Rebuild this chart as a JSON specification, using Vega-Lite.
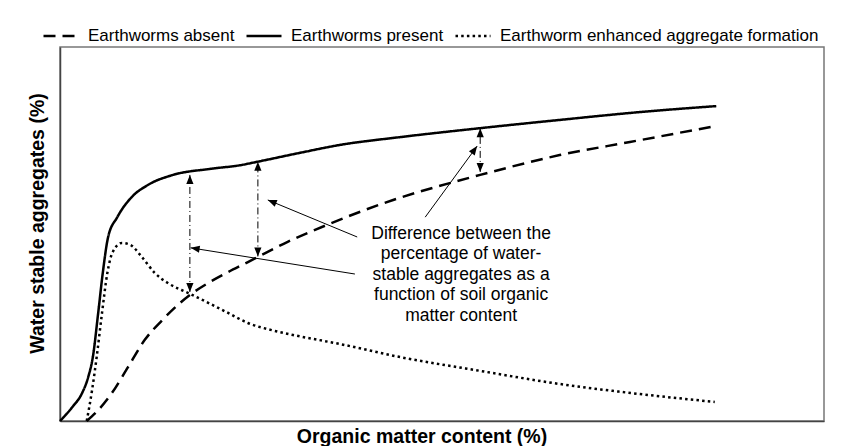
{
  "$schema": "https://vega.github.io/schema/vega-lite/v6.json",
  "width": 764,
  "height": 374,
  "autosize": {"type": "none"},
  "padding": {"left": 60, "top": 47, "right": 19, "bottom": 25},
  "background": "white",
  "config": {
    "view": {"stroke": "#777", "strokeWidth": 1.5},
    "font": "Liberation Sans",
    "axis": {
      "ticks": false, "labels": false, "grid": false,
      "domainColor": "#444", "domainWidth": 1.5,
      "titleFont": "Liberation Sans", "titleFontSize": 19.5, "titleFontWeight": "bold", "titleColor": "black"
    },
    "axisX": {"titlePadding": 6, "titleX": 361.5, "titleAlign": "center"},
    "axisY": {"titlePadding": 13, "titleY": 176, "titleAlign": "center"}
  },
  "datasets": {
    "curves": [
      {"series": "Earthworms present", "om": 0, "wsa": 0},
      {"series": "Earthworms present", "om": 1.6, "wsa": 3.7},
      {"series": "Earthworms present", "om": 2.9, "wsa": 7.5},
      {"series": "Earthworms present", "om": 3.7, "wsa": 11.8},
      {"series": "Earthworms present", "om": 4.3, "wsa": 17.1},
      {"series": "Earthworms present", "om": 5.0, "wsa": 28.9},
      {"series": "Earthworms present", "om": 5.6, "wsa": 39.6},
      {"series": "Earthworms present", "om": 6.3, "wsa": 49.2},
      {"series": "Earthworms present", "om": 7.5, "wsa": 54.5},
      {"series": "Earthworms present", "om": 9.4, "wsa": 59.9},
      {"series": "Earthworms present", "om": 11.5, "wsa": 63.1},
      {"series": "Earthworms present", "om": 14.8, "wsa": 65.8},
      {"series": "Earthworms present", "om": 19.6, "wsa": 67.4},
      {"series": "Earthworms present", "om": 23.6, "wsa": 68.4},
      {"series": "Earthworms present", "om": 25.8, "wsa": 69.3},
      {"series": "Earthworms present", "om": 31.4, "wsa": 71.7},
      {"series": "Earthworms present", "om": 36.6, "wsa": 73.8},
      {"series": "Earthworms present", "om": 44.5, "wsa": 75.9},
      {"series": "Earthworms present", "om": 55.0, "wsa": 78.3},
      {"series": "Earthworms present", "om": 65.4, "wsa": 80.5},
      {"series": "Earthworms present", "om": 75.9, "wsa": 82.6},
      {"series": "Earthworms present", "om": 85.9, "wsa": 84.2},
      {"series": "Earthworms absent", "om": 3.5, "wsa": 0},
      {"series": "Earthworms absent", "om": 5.0, "wsa": 2.9},
      {"series": "Earthworms absent", "om": 6.8, "wsa": 7.5},
      {"series": "Earthworms absent", "om": 8.9, "wsa": 14.4},
      {"series": "Earthworms absent", "om": 11.1, "wsa": 21.7},
      {"series": "Earthworms absent", "om": 13.4, "wsa": 27.0},
      {"series": "Earthworms absent", "om": 15.4, "wsa": 31.0},
      {"series": "Earthworms absent", "om": 17.0, "wsa": 33.7},
      {"series": "Earthworms absent", "om": 19.4, "wsa": 36.9},
      {"series": "Earthworms absent", "om": 22.0, "wsa": 39.8},
      {"series": "Earthworms absent", "om": 24.6, "wsa": 42.5},
      {"series": "Earthworms absent", "om": 26.4, "wsa": 44.4},
      {"series": "Earthworms absent", "om": 29.8, "wsa": 47.9},
      {"series": "Earthworms absent", "om": 34.9, "wsa": 52.4},
      {"series": "Earthworms absent", "om": 43.6, "wsa": 59.1},
      {"series": "Earthworms absent", "om": 51.0, "wsa": 63.6},
      {"series": "Earthworms absent", "om": 55.0, "wsa": 65.8},
      {"series": "Earthworms absent", "om": 65.4, "wsa": 71.1},
      {"series": "Earthworms absent", "om": 74.6, "wsa": 74.6},
      {"series": "Earthworms absent", "om": 85.9, "wsa": 78.9},
      {"series": "Earthworm enhanced aggregate formation", "om": 3.5, "wsa": 0},
      {"series": "Earthworm enhanced aggregate formation", "om": 4.2, "wsa": 8.3},
      {"series": "Earthworm enhanced aggregate formation", "om": 4.8, "wsa": 17.1},
      {"series": "Earthworm enhanced aggregate formation", "om": 5.5, "wsa": 28.9},
      {"series": "Earthworm enhanced aggregate formation", "om": 6.2, "wsa": 39.6},
      {"series": "Earthworm enhanced aggregate formation", "om": 6.9, "wsa": 45.2},
      {"series": "Earthworm enhanced aggregate formation", "om": 8.1, "wsa": 47.6},
      {"series": "Earthworm enhanced aggregate formation", "om": 9.2, "wsa": 47.1},
      {"series": "Earthworm enhanced aggregate formation", "om": 10.7, "wsa": 43.9},
      {"series": "Earthworm enhanced aggregate formation", "om": 12.4, "wsa": 39.6},
      {"series": "Earthworm enhanced aggregate formation", "om": 14.1, "wsa": 36.9},
      {"series": "Earthworm enhanced aggregate formation", "om": 16.8, "wsa": 34.2},
      {"series": "Earthworm enhanced aggregate formation", "om": 19.4, "wsa": 31.6},
      {"series": "Earthworm enhanced aggregate formation", "om": 22.0, "wsa": 28.9},
      {"series": "Earthworm enhanced aggregate formation", "om": 24.6, "wsa": 26.2},
      {"series": "Earthworm enhanced aggregate formation", "om": 27.7, "wsa": 24.3},
      {"series": "Earthworm enhanced aggregate formation", "om": 30.5, "wsa": 23.0},
      {"series": "Earthworm enhanced aggregate formation", "om": 36.6, "wsa": 20.6},
      {"series": "Earthworm enhanced aggregate formation", "om": 44.5, "wsa": 17.1},
      {"series": "Earthworm enhanced aggregate formation", "om": 55.0, "wsa": 13.4},
      {"series": "Earthworm enhanced aggregate formation", "om": 65.4, "wsa": 9.9},
      {"series": "Earthworm enhanced aggregate formation", "om": 75.9, "wsa": 7.2},
      {"series": "Earthworm enhanced aggregate formation", "om": 85.7, "wsa": 5.1}
    ],
    "diffs": [
      {"om": 17.0, "lo": 34.5, "hi": 65.8},
      {"om": 25.9, "lo": 44.0, "hi": 69.3},
      {"om": 55.0, "lo": 66.6, "hi": 78.3}
    ],
    "pointers": [
      {"id": "a", "om": 38.9, "wsa": 49.2, "tom": 27.2, "twsa": 59.1},
      {"id": "b", "om": 38.6, "wsa": 39.3, "tom": 17.1, "twsa": 46.3},
      {"id": "c", "om": 47.8, "wsa": 54.5, "tom": 54.6, "twsa": 73.5}
    ],
    "note": [
      {"om": 52.5, "wsa": 48.7, "label": "Difference between the\npercentage of water-\nstable aggregates as a\nfunction of soil organic\nmatter content"}
    ]
  },
  "layer": [
    {
      "data": {"name": "curves"},
      "mark": {"type": "line", "interpolate": "monotone", "color": "black", "strokeWidth": 2.5, "strokeCap": "butt"},
      "encoding": {
        "x": {
          "field": "om", "type": "quantitative",
          "scale": {"domain": [0, 100], "nice": false, "zero": false},
          "title": "Organic matter content (%)"
        },
        "y": {
          "field": "wsa", "type": "quantitative",
          "scale": {"domain": [0, 100], "nice": false, "zero": false},
          "title": "Water stable aggregates (%)"
        },
        "strokeDash": {
          "field": "series", "type": "nominal",
          "scale": {
            "domain": ["Earthworms absent", "Earthworms present", "Earthworm enhanced aggregate formation"],
            "range": [[12, 7], [1, 0], [2.5, 3.2]]
          },
          "legend": {
            "title": null, "orient": "none", "legendX": -18, "legendY": -30, "direction": "horizontal",
            "symbolType": "stroke", "symbolSize": 1225, "symbolStrokeWidth": 2.5, "symbolStrokeColor": "black",
            "labelFont": "Liberation Sans", "labelFontSize": 17, "labelColor": "black",
            "labelOffset": 8, "columnPadding": 6, "labelLimit": 0, "padding": 0
          }
        }
      }
    },
    {
      "data": {"name": "diffs"},
      "mark": {"type": "rule", "color": "black", "strokeWidth": 1, "strokeDash": [7, 3, 1, 3]},
      "encoding": {
        "x": {"field": "om", "type": "quantitative"},
        "y": {"field": "lo", "type": "quantitative"},
        "y2": {"field": "hi"}
      }
    },
    {
      "data": {"name": "diffs"},
      "mark": {"type": "point", "shape": "M0,0L0.8,2L-0.8,2Z", "filled": true, "size": 81, "color": "black", "opacity": 1},
      "encoding": {
        "x": {"field": "om", "type": "quantitative"},
        "y": {"field": "hi", "type": "quantitative"}
      }
    },
    {
      "data": {"name": "diffs"},
      "mark": {"type": "point", "shape": "M0,0L0.8,-2L-0.8,-2Z", "filled": true, "size": 81, "color": "black", "opacity": 1},
      "encoding": {
        "x": {"field": "om", "type": "quantitative"},
        "y": {"field": "lo", "type": "quantitative"}
      }
    },
    {
      "data": {"name": "pointers"},
      "mark": {"type": "rule", "color": "black", "strokeWidth": 1},
      "encoding": {
        "x": {"field": "om", "type": "quantitative"},
        "y": {"field": "wsa", "type": "quantitative"},
        "x2": {"field": "tom"},
        "y2": {"field": "twsa"}
      }
    },
    {
      "data": {"name": "pointers"},
      "transform": [{"filter": "datum.id == 'a'"}],
      "mark": {"type": "point", "shape": "M0,0L0.8,2L-0.8,2Z", "filled": true, "size": 81, "color": "black", "opacity": 1, "angle": 292.6},
      "encoding": {
        "x": {"field": "tom", "type": "quantitative"},
        "y": {"field": "twsa", "type": "quantitative"}
      }
    },
    {
      "data": {"name": "pointers"},
      "transform": [{"filter": "datum.id == 'b'"}],
      "mark": {"type": "point", "shape": "M0,0L0.8,2L-0.8,2Z", "filled": true, "size": 81, "color": "black", "opacity": 1, "angle": 279},
      "encoding": {
        "x": {"field": "tom", "type": "quantitative"},
        "y": {"field": "twsa", "type": "quantitative"}
      }
    },
    {
      "data": {"name": "pointers"},
      "transform": [{"filter": "datum.id == 'c'"}],
      "mark": {"type": "point", "shape": "M0,0L0.8,2L-0.8,2Z", "filled": true, "size": 81, "color": "black", "opacity": 1, "angle": 36.2},
      "encoding": {
        "x": {"field": "tom", "type": "quantitative"},
        "y": {"field": "twsa", "type": "quantitative"}
      }
    },
    {
      "data": {"name": "note"},
      "mark": {"type": "text", "align": "center", "baseline": "alphabetic", "font": "Liberation Sans", "fontSize": 17.5, "lineHeight": 20.5, "lineBreak": "\n", "color": "black"},
      "encoding": {
        "x": {"field": "om", "type": "quantitative"},
        "y": {"field": "wsa", "type": "quantitative"},
        "text": {"field": "label"}
      }
    }
  ]
}
